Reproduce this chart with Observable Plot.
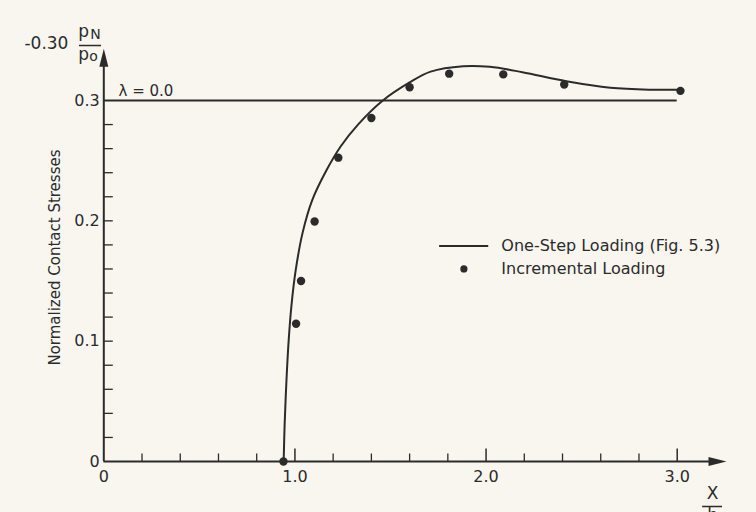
<!DOCTYPE html>
<html><head><meta charset="utf-8">
<script src="https://cdn.jsdelivr.net/npm/d3@7"></script>
<script src="https://cdn.jsdelivr.net/npm/@observablehq/plot@0.6"></script>
<style>
html,body{margin:0;padding:0;background:#f8f6ef;}
#chart svg{display:block;}
</style></head><body><div id="chart"></div>
<script>
// Incremental loading (measured points)
const pointX = [0.94, 1.006, 1.032, 1.103, 1.227, 1.40, 1.60, 1.807, 2.09, 2.409, 3.017];
const pointY = [0.0, 0.1145, 0.150, 0.1995, 0.2525, 0.2854, 0.311, 0.3223, 0.3217, 0.3133, 0.308];
// One-step loading curve (Fig. 5.3)
const curveX = [0.941, 0.946, 0.955, 0.967, 0.982, 1.005, 1.04, 1.09, 1.165, 1.24, 1.33, 1.46, 1.60, 1.71, 1.88, 2.02, 2.19, 2.42, 2.65, 2.86, 3.01];
const curveY = [0.0, 0.03, 0.065, 0.10, 0.13, 0.16, 0.19, 0.217, 0.242, 0.262, 0.28, 0.300, 0.315, 0.324, 0.3285, 0.328, 0.3235, 0.316, 0.3106, 0.309, 0.309];
// reference level
const refLevel = [0.3];
const refExtent = [0, 3.0];
const refLabel = ["λ = 0.0"];
// ticks
const xMinorTicks = [0.2,0.4,0.6,0.8,1.2,1.4,1.6,1.8,2.2,2.4,2.6,2.8];
const xMajorTicks = [1,2,3];
const xTickValues = [0,1,2,3];
const xTickLabels = ["0","1.0","2.0","3.0"];
const yMinorTicks = [0.02,0.04,0.06,0.08,0.10,0.12,0.14,0.16,0.18,0.20,0.22,0.24,0.26,0.28];
const yTickValues = [0,0.1,0.2,0.3];
const yTickLabels = ["0","0.1","0.2","0.3"];
const axisEnds = [3.258, 0.343];
const yAxisTitle = ["Normalized Contact Stresses"];
const yUnitValue = ["-0.30"];
const yUnitNum = ["p", "N"];
const yUnitDen = ["p", "o"];
const xUnitNum = ["X"];
const xUnitDen = ["h"];
const legendLabels = ["One-Step Loading (Fig. 5.3)", "Incremental Loading"];

const ink = "#2b2b2b";
const font = "DejaVu Sans, sans-serif";

const points = pointX.map((x,i)=>({x, y: pointY[i]}));
const curve = curveX.map((x,i)=>({x, y: curveY[i]}));

const arrowHead = {draw(ctx){ ctx.moveTo(0,0); ctx.lineTo(-18,-4.5); ctx.lineTo(-18,4.5); ctx.closePath(); }};
const tickSym = {draw(ctx,size){ const l=Math.sqrt(size/Math.PI); ctx.moveTo(0,0); ctx.lineTo(0,-l); }};

const plot = Plot.plot({
  width: 756, height: 512,
  x: {domain:[0,3], range:[103.3,676.7], axis:null},
  y: {domain:[0,0.3], range:[461,100], axis:null},
  style: {background:"transparent", fontFamily: font, color: ink, overflow:"visible"},
  marks: [
    // axes
    Plot.ruleY([0], {x1:0, x2: axisEnds[0]-0.05, stroke: ink, strokeWidth: 2}),
    Plot.ruleX([0], {y1:0, y2: axisEnds[1]-0.01, stroke: ink, strokeWidth: 2}),
    Plot.dot([axisEnds[0]], {x: d=>d, y: 0, symbol: arrowHead, fill: ink, stroke: "none", r: 5}),
    Plot.dot([axisEnds[1]], {x: 0, y: d=>d, symbol: arrowHead, fill: ink, stroke: "none", r: 5, rotate: -90}),
    // ticks
    Plot.dot(xMinorTicks, {x: d=>d, y: 0, symbol: tickSym, r: 8, fill: "none", stroke: ink, strokeWidth: 1.3}),
    Plot.dot(xMajorTicks, {x: d=>d, y: 0, symbol: tickSym, r: 13, fill: "none", stroke: ink, strokeWidth: 1.5}),
    Plot.dot(yMinorTicks, {x: 0, y: d=>d, symbol: tickSym, r: 9, rotate: 90, fill: "none", stroke: ink, strokeWidth: 1.3}),
    // tick labels
    Plot.text(xTickValues, {x: d=>d, y: 0, text: (d,i)=>xTickLabels[i], dy: 15, fontSize: 16, fill: ink}),
    Plot.text(yTickValues, {x: 0, y: d=>d, text: (d,i)=>yTickLabels[i], dx: -4, textAnchor: "end", fontSize: 16, fill: ink}),
    // axis titles
    Plot.text(yAxisTitle, {x: -0.253, y: 0.1695, text: d=>d, rotate: -90, fontSize: 15, fill: ink}),
    Plot.text(yUnitValue, {x: -0.185, y: 0.347, text: d=>d, textAnchor: "end", fontSize: 17, fill: ink}),
    Plot.text([yUnitNum[0]], {x: -0.106, y: 0.357, text: d=>d, fontSize: 17, fill: ink}),
    Plot.text([yUnitNum[1]], {x: -0.043, y: 0.355, text: d=>d, fontSize: 14, fill: ink}),
    Plot.ruleY([0.3457], {x1: -0.127, x2: -0.012, stroke: ink, strokeWidth: 1.5}),
    Plot.text([yUnitDen[0]], {x: -0.106, y: 0.3385, text: d=>d, fontSize: 17, fill: ink}),
    Plot.text([yUnitDen[1]], {x: -0.054, y: 0.3365, text: d=>d, fontSize: 14, fill: ink}),
    Plot.text(xUnitNum, {x: 3.185, y: -0.027, text: d=>d, fontSize: 17, fill: ink}),
    Plot.ruleY([-0.0374], {x1: 3.133, x2: 3.237, stroke: ink, strokeWidth: 1.5}),
    Plot.text(xUnitDen, {x: 3.185, y: -0.0445, text: d=>d, fontSize: 17, fill: ink}),
    // reference line
    Plot.ruleY(refLevel, {x1: refExtent[0], x2: refExtent[1], stroke: ink, strokeWidth: 2}),
    Plot.text(refLabel, {x: 0.077, y: 0.308, text: d=>d, textAnchor: "start", fontSize: 15, fill: ink}),
    // data
    Plot.line(curve, {x: "x", y: "y", curve: "catmull-rom", stroke: ink, strokeWidth: 2}),
    Plot.dot(points, {x: "x", y: "y", r: 4.2, fill: ink, stroke: "none"}),
    // legend
    Plot.ruleY([0.179], {x1: 1.757, x2: 2.014, stroke: ink, strokeWidth: 2}),
    Plot.dot([0.160], {x: 1.884, y: d=>d, r: 3.6, fill: ink, stroke: "none"}),
    Plot.text(legendLabels, {x: 2.08, y: (d,i)=> i===0 ? 0.179 : 0.160, text: d=>d, textAnchor: "start", fontSize: 16, fill: ink})
  ]
});
document.getElementById("chart").appendChild(plot);
</script>
</body></html>
